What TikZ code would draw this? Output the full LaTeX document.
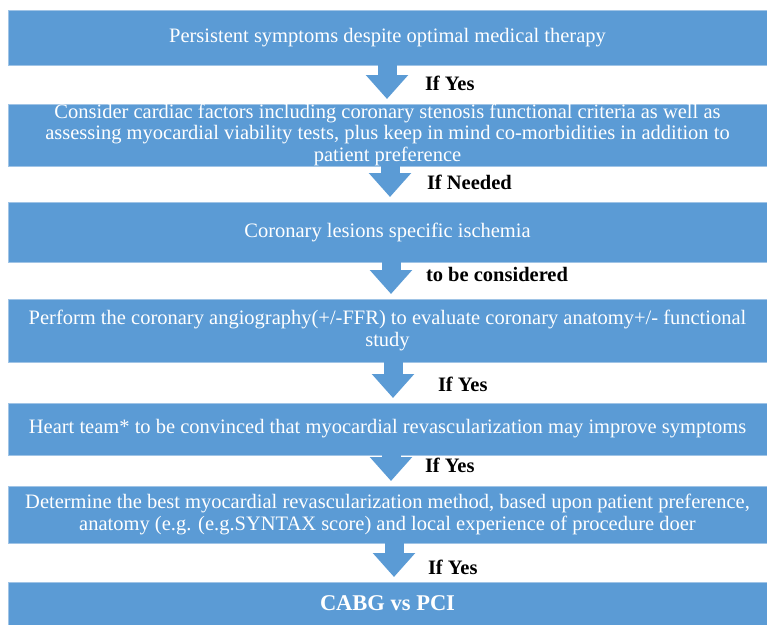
\documentclass[tikz,border=0pt]{standalone}
\usepackage{fontspec}
\setmainfont{Liberation Serif}
\usepackage{tikz}
\usetikzlibrary{calc,arrows.meta}

\definecolor{boxblue}{RGB}{91,155,213}
\definecolor{boxedge}{RGB}{160,196,230}

\tikzset{
  stepbox/.style={fill=boxblue, draw=boxedge, line width=0.5pt, text=white,
    minimum width=759pt, align=center, anchor=north west,
    font=\fontsize{20.5}{21.5}\selectfont},
  flowarrow/.style={draw=boxblue, line width=19pt, shorten >=5pt,
    -{Triangle[width=41pt,length=24pt]}},
  steplabel/.style={anchor=west, font=\fontsize{20.5}{22}\selectfont\bfseries}
}

\begin{document}
\begin{tikzpicture}[x=1pt,y=-1pt,inner sep=0pt,outer sep=0pt]
    \useasboundingbox (0,0) rectangle (767,624);

    % boxes
    \node[stepbox, minimum height=55pt] (symptoms) at (8,10)
    {Persistent symptoms despite optimal medical therapy};
    \node[stepbox, minimum height=61pt] (factors) at (8,104)
    {Consider cardiac factors including coronary stenosis functional criteria as well as\\
     assessing myocardial viability tests, plus keep in mind co-morbidities in addition to\\
     patient preference};
    \node[stepbox, minimum height=60pt] (ischemia) at (8,202)
    {Coronary lesions specific ischemia};
    \node[stepbox, minimum height=63pt] (angio) at (8,299)
    {Perform the coronary angiography(+/-FFR) to evaluate coronary anatomy+/- functional\\
     study};
    \node[stepbox, minimum height=52pt] (team) at (8,403)
    {Heart team* to be convinced that myocardial revascularization may improve symptoms};
    \node[stepbox, minimum height=57pt] (method) at (8,486)
    {Determine the best myocardial revascularization method, based upon patient preference,\\
     anatomy (e.g. (e.g.SYNTAX score) and local experience of procedure doer};
    \node[stepbox, minimum height=43pt, font=\fontsize{22.5}{24}\selectfont\bfseries] (choice) at (8,582)
    {CABG vs PCI};

    % arrows
    \draw[flowarrow] ($(symptoms.south)+(-0.5,0)$) -- ($(factors.north)+(-0.5,0)$);
    \draw[flowarrow] ($(factors.south)+(2.5,0)$) -- ($(ischemia.north)+(2.5,0)$);
    \draw[flowarrow] ($(ischemia.south)+(3.5,0)$) -- ($(angio.north)+(3.5,0)$);
    \draw[flowarrow] ($(angio.south)+(5.5,0)$) -- ($(team.north)+(5.5,0)$);
    \draw[flowarrow] ($(team.south)+(3.5,0)$) -- ($(method.north)+(3.5,0)$);
    \draw[flowarrow] ($(method.south)+(6.5,0)$) -- ($(choice.north)+(6.5,0)$);

    % labels
    \node[steplabel] (yes_a) at (425,83) {If Yes};
    \node[steplabel] (needed) at (427,182) {If Needed};
    \node[steplabel] (considered) at (426,274) {to be considered};
    \node[steplabel] (yes_b) at (438,384) {If Yes};
    \node[steplabel] (yes_c) at (425,465) {If Yes};
    \node[steplabel] (yes_d) at (428,567) {If Yes};
\end{tikzpicture}
\end{document}
